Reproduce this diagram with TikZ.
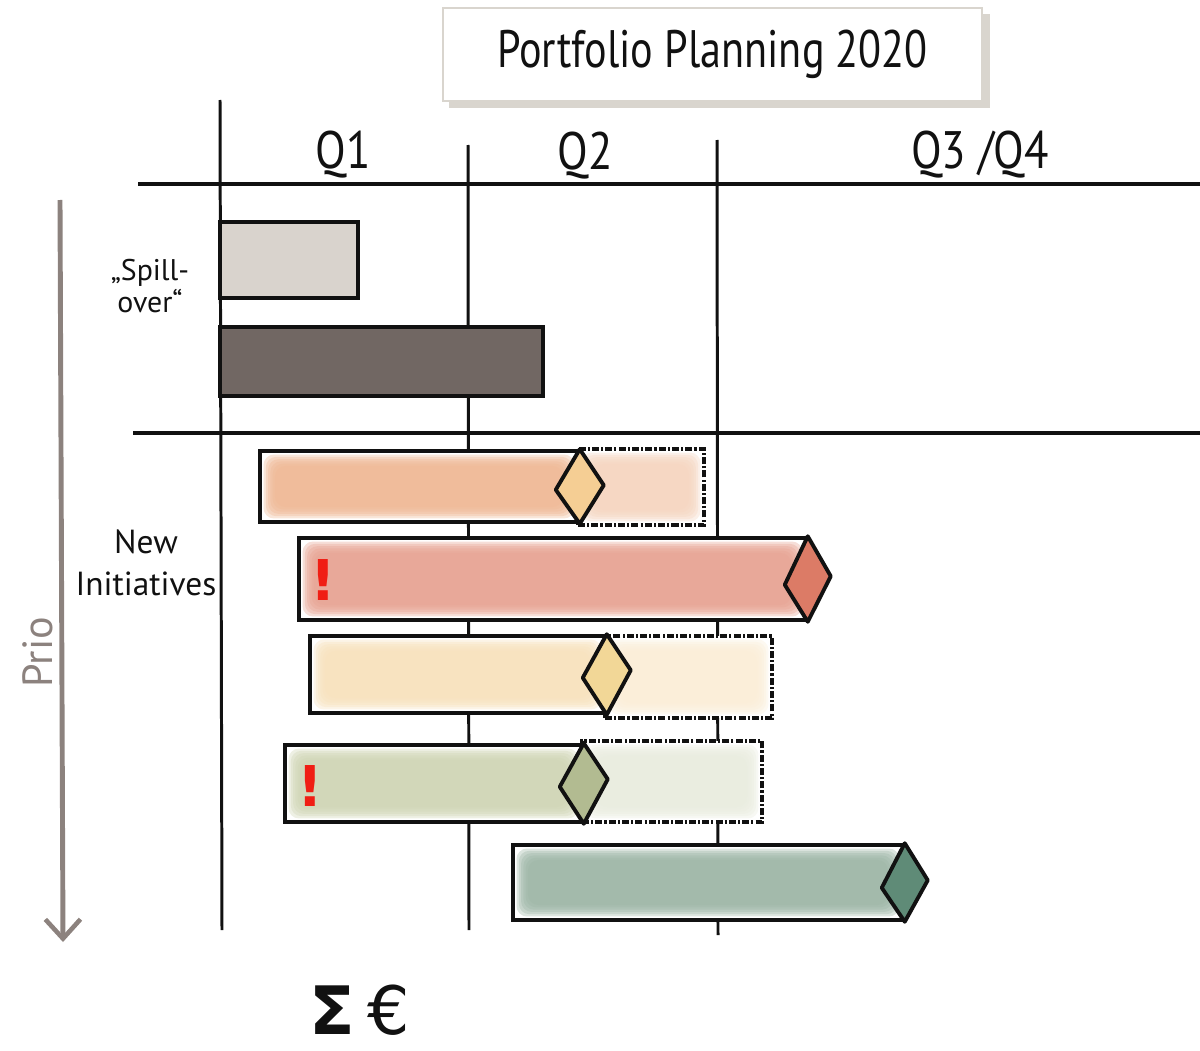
\documentclass[tikz,border=0pt]{standalone}
\usepackage{fontspec}
\setmainfont{PT Sans}
\newfontfamily\symfont{DejaVu Sans}
\usetikzlibrary{arrows.meta,fit}

\definecolor{ink}{HTML}{111111}
\definecolor{shadowgray}{HTML}{D9D5CE}
\definecolor{priogray}{HTML}{8C827E}
\definecolor{spillA}{HTML}{D9D3CD}
\definecolor{spillB}{HTML}{716763}
\definecolor{peach}{HTML}{F0B894}
\definecolor{peachX}{HTML}{F6D6C0}
\definecolor{peachD}{HTML}{F5CE94}
\definecolor{rose}{HTML}{E8A292}
\definecolor{roseD}{HTML}{DC7B66}
\definecolor{cream}{HTML}{F8E2BC}
\definecolor{creamX}{HTML}{FBEED8}
\definecolor{creamD}{HTML}{F2D797}
\definecolor{sage}{HTML}{D0D6B4}
\definecolor{sageX}{HTML}{EAEDDF}
\definecolor{sageD}{HTML}{B2BB91}
\definecolor{teal}{HTML}{9DB6A6}
\definecolor{tealD}{HTML}{5F8B77}
\definecolor{alert}{HTML}{F01E14}

\tikzset{
  gridline/.style={line width=1.7pt, draw=ink},
  rowline/.style={line width=2.2pt, draw=ink},
  plainbar/.style={draw=ink, line width=2pt, inner sep=0pt, fill=#1},
  % bar with a soft, brushed-in fill that fades towards its border
  softbar/.style={draw=ink, line width=2pt, inner sep=0pt, fill=white,
    path picture={
      \foreach \k in {0,...,5}{
        \fill[#1, opacity=0.35, rounded corners=6pt]
          ([shift={(2pt+\k*1.3pt,2pt+\k*1.3pt)}]path picture bounding box.south west)
          rectangle
          ([shift={(-2pt-\k*1.3pt,-2pt-\k*1.3pt)}]path picture bounding box.north east);
      }}},
  extbar/.style={softbar=#1, draw=ink, line width=1.9pt,
    dash pattern=on 4pt off 1.2pt on 1.2pt off 1.2pt},
  milestone/.style={draw=ink, line width=2.2pt, line join=round, fill=#1},
  hand/.style={font=\fontsize{#1}{#1}\selectfont, text=ink, inner sep=0pt, align=center},
  excl/.style={font=\symfont\bfseries\fontsize{32}{32}\selectfont, text=alert, inner sep=0pt},
}

\begin{document}
\begin{tikzpicture}[x=0.02cm, y=-0.02cm]
\useasboundingbox (0,0) rectangle (1200,1051);

% title card with its shadow
\fill[shadowgray] (449,14) rectangle (990,108);
\node[draw=shadowgray, line width=1.2pt, fill=white, inner sep=0pt,
      fit={(443,8) (982,101)}] (card) {};
\node[hand=30] (title) at (card.center) {\scalebox{0.8}[1]{Portfolio Planning 2020}};

% quarter columns and row separators
\coordinate (c1t) at (220,100);  \coordinate (c1b) at (222,930);
\coordinate (c2t) at (468,145);  \coordinate (c2b) at (469,930);
\coordinate (c3t) at (717,140);  \coordinate (c3b) at (718,935);
\coordinate (r1l) at (138,184);  \coordinate (r1r) at (1200,184);
\coordinate (r2l) at (133,433);  \coordinate (r2r) at (1200,433);
\draw[gridline] (c1t) -- (c1b);
\draw[gridline] (c2t) -- (c2b);
\draw[gridline] (c3t) -- (c3b);
\draw[rowline] (r1l) -- (r1r);
\draw[rowline] (r2l) -- (r2r);

\node[hand=30] (q1) at (343,155) {\scalebox{0.85}[1]{Q1}};
\node[hand=30] (q2) at (585,156) {\scalebox{0.85}[1]{Q2}};
\node[hand=30] (q34) at (980,155) {\scalebox{0.85}[1]{Q3 /Q4}};

% row labels
\node[hand=17] (spill) at (150,286) {„Spill-\\[1pt]over“};
\node[hand=19] (newinit) at (146,563) {New\\[5pt]Initiatives};

% priority axis
\coordinate (ptop) at (60,200);
\coordinate (pbot) at (63,942);
\draw[priogray, line width=2.8pt,
      -{Straight Barb[length=11pt, width=20pt, line width=2.6pt]}] (ptop) -- (pbot);
\node[hand=24, text=priogray, rotate=90] (prio) at (38,652) {Prio};

% spill-over bars
\node[plainbar=spillA, fit={(220,222) (358,298)}] (s1) {};
\node[plainbar=spillB, fit={(220,327) (543,396)}] (s2) {};

% new initiatives: planned extensions (dashed), bars, milestones
\node[extbar=peachX, fit={(578,449) (704,525)}] (ea) {};
\node[softbar=peach, fit={(260,451) (578,522)}] (ba) {};
\draw[milestone=peachD] (ba.north east) -- ++(24,36) -- (ba.south east) -- ++(-24,-34) -- cycle;

\node[softbar=rose, fit={(299,538) (806,620)}] (bb) {};
\draw[milestone=roseD] (bb.north east) -- ++(23,40) -- (bb.south east) -- ++(-23,-37) -- cycle;
\node[excl] (xb) at (323,580) {!};

\node[extbar=creamX, fit={(605,636) (772,718)}] (ec) {};
\node[softbar=cream, fit={(310,636) (605,713)}] (bc) {};
\draw[milestone=creamD] (bc.north east) -- ++(24,36) -- (bc.south east) -- ++(-24,-37) -- cycle;

\node[extbar=sageX, fit={(582,741) (762,822)}] (ed) {};
\node[softbar=sage, fit={(285,745) (582,822)}] (bd) {};
\draw[milestone=sageD] (bd.north east) -- ++(24,36) -- (bd.south east) -- ++(-24,-37) -- cycle;
\node[excl] (xd) at (310,786) {!};

\node[softbar=teal, fit={(513,845) (903,920)}] (be) {};
\draw[milestone=tealD] (be.north east) -- ++(23,37) -- (be.south east) -- ++(-23,-34) -- cycle;

% budget sum
\node[font=\symfont\fontsize{38}{38}\selectfont, text=ink, inner sep=0pt, anchor=base]
  (sum) at (360,1034) {{\bfseries Σ}\hspace{7pt}€};
\end{tikzpicture}
\end{document}
